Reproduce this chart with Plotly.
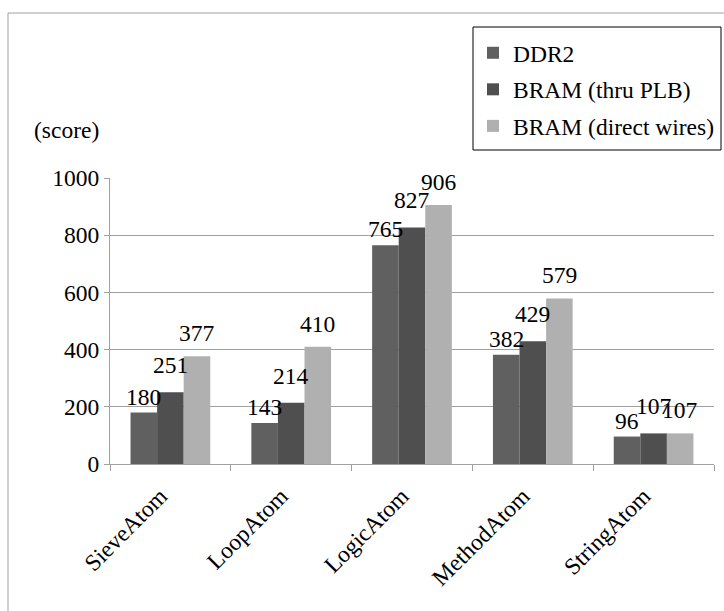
import plotly.graph_objects as go

# Benchmark scores per atom, three memory configurations
categories = ["SieveAtom", "LoopAtom", "LogicAtom", "MethodAtom", "StringAtom"]
series_names = ["DDR2", "BRAM (thru PLB)", "BRAM (direct wires)"]
ddr2 = [180, 143, 765, 382, 96]
bram_plb = [251, 214, 827, 429, 107]
bram_direct = [377, 410, 906, 579, 107]
y_ticks = [0, 200, 400, 600, 800, 1000]

colors = ["#606060", "#4f4f4f", "#b0b0b0"]
label_lift = [1, 12, 8]  # vertical pixel lift of value labels per series
FONT = "'Liberation Serif', 'Times New Roman', Times, serif"
FS = 23.5

W, H = 724, 611
L, R, T, B = 110, 10, 178, 147
pw, ph = W - L - R, H - T - B
BARGAP = 0.34
bar_px = pw / len(categories) * (1 - BARGAP) / len(series_names)

fig = go.Figure()
all_series = [ddr2, bram_plb, bram_direct]
for i, (name, vals) in enumerate(zip(series_names, all_series)):
    fig.add_trace(go.Bar(
        x=categories, y=vals, name=name,
        marker=dict(color=colors[i], line=dict(width=0)),
        legendgroup=f"g{i}",
    ))
    # value labels above each bar
    for cat, v in zip(categories, vals):
        fig.add_annotation(
            x=cat, y=v, xref="x", yref="y", text=str(v),
            xshift=(i - 1) * bar_px, yshift=label_lift[i],
            xanchor="center", yanchor="bottom", showarrow=False,
            font=dict(family=FONT, size=FS, color="black"),
        )

def px_x(x):
    return (x - L) / pw

def px_y(y):
    return (H - B - y) / ph

fig.update_layout(
    width=W, height=H,
    margin=dict(l=L, r=R, t=T, b=B, pad=0, autoexpand=False),
    paper_bgcolor="white", plot_bgcolor="white",
    barmode="group", bargap=BARGAP, bargroupgap=0,
    font=dict(family=FONT, size=FS, color="black"),
    legend=dict(
        x=px_x(473), y=px_y(31), xanchor="left", yanchor="top",
        borderwidth=0, bgcolor="rgba(0,0,0,0)",
        font=dict(family=FONT, size=FS, color="black"),
        tracegroupgap=3, traceorder="grouped",
    ),
    showlegend=True,
)
fig.update_yaxes(
    range=[0, 1000], tickvals=y_ticks, ticktext=[str(v) for v in y_ticks],
    showgrid=True, gridcolor="#a0a0a0", gridwidth=1,
    showline=True, linecolor="#a0a0a0", linewidth=1,
    ticks="outside", ticklen=5, tickcolor="#a0a0a0",
    tickfont=dict(family=FONT, size=FS, color="black"),
    zeroline=False, automargin=False,
)
fig.update_xaxes(
    showline=True, linecolor="#a0a0a0", linewidth=1,
    ticks="outside", ticklen=6, tickcolor="#a0a0a0", tickson="boundaries",
    tickangle=-45, tickfont=dict(family=FONT, size=FS, color="black"),
    ticklabelshift=-10, ticklabelstandoff=8,
    showgrid=False, automargin=False,
)

# Axis unit label
fig.add_annotation(
    text="(score)", xref="paper", yref="paper",
    x=px_x(32), y=px_y(130), xanchor="left", yanchor="middle",
    showarrow=False, font=dict(family=FONT, size=FS, color="black"),
)

# Chart area frame
fig.add_shape(
    type="rect", xref="paper", yref="paper",
    x0=px_x(8), y0=px_y(620), x1=px_x(735), y1=px_y(13),
    line=dict(color="#a0a0a0", width=1), fillcolor="rgba(0,0,0,0)",
    layer="below",
)
# Legend box
fig.add_shape(
    type="rect", xref="paper", yref="paper",
    x0=px_x(473), y0=px_y(150), x1=px_x(721), y1=px_y(27),
    line=dict(color="black", width=1), fillcolor="white",
    layer="above",
)

fig.write_html("out.html")
